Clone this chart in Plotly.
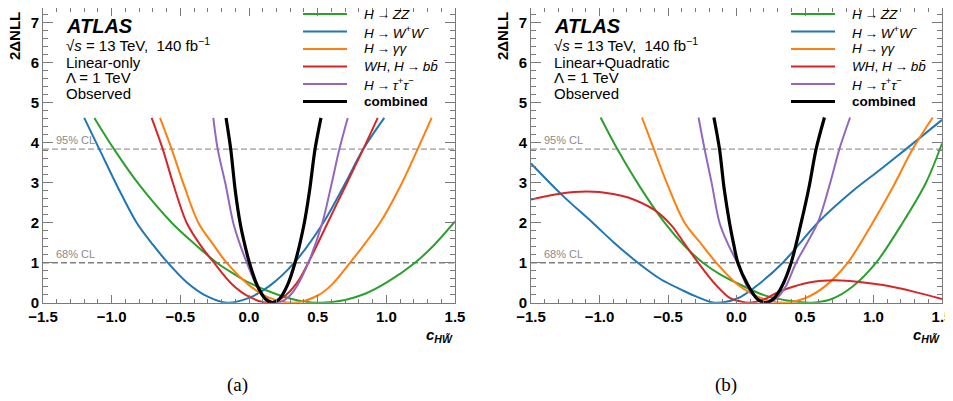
import plotly.graph_objects as go

# ---------------- data ----------------
TS = "\u2009"  # thin space around the arrows, as in the reference
channel_labels = [
    f"<i>H</i>{TS}→{TS}<i>ZZ</i>",
    f"<i>H</i>{TS}→{TS}<i>W</i><sup>+</sup><i>W</i><sup>−</sup>",
    f"<i>H</i>{TS}→{TS}<i>γγ</i>",
    f"<i>WH</i>, <i>H</i>{TS}→{TS}<i>bb̄</i>",
    f"<i>H</i>{TS}→{TS}<i>τ</i><sup>+</sup><i>τ</i><sup>−</sup>",
    "<b>combined</b>",
]
channel_colors = ["#2ca02c", "#1f77b4", "#ff7f0e", "#d62728", "#9467bd", "#000000"]
channel_widths = [2, 2, 2, 2, 2, 3.2]

# (a) Linear-only
lin_zz_x = [-1.126, -0.983, -0.80, -0.563, -0.40, -0.235, -0.10, 0.0, 0.211, 0.40, 0.52, 0.70, 0.85, 1.0, 1.209, 1.35, 1.5]
lin_zz_y = [4.62, 3.84, 2.95, 2.0, 1.48, 1.0, 0.70, 0.50, 0.20, 0.03, 0.0, 0.07, 0.23, 0.5, 1.0, 1.45, 2.03]
lin_ww_x = [-1.20, -1.09, -0.95, -0.818, -0.70, -0.592, -0.45, -0.30, -0.16, 0.0, 0.15, 0.33, 0.541, 0.70, 0.832, 0.985]
lin_ww_y = [4.62, 3.84, 2.85, 2.0, 1.45, 1.0, 0.50, 0.15, 0.0, 0.12, 0.42, 1.0, 2.0, 2.98, 3.84, 4.62]
lin_yy_x = [-0.648, -0.563, -0.47, -0.369, -0.26, -0.163, 0.0, 0.15, 0.33, 0.50, 0.60, 0.736, 0.954, 1.10, 1.228, 1.330]
lin_yy_y = [4.62, 3.84, 2.9, 2.0, 1.45, 1.0, 0.44, 0.12, 0.0, 0.18, 0.44, 1.0, 2.0, 2.9, 3.84, 4.62]
lin_bb_x = [-0.709, -0.628, -0.55, -0.454, -0.35, -0.255, -0.12, 0.0, 0.14, 0.25, 0.35, 0.432, 0.573, 0.70, 0.832, 0.937]
lin_bb_y = [4.62, 3.84, 2.95, 2.0, 1.42, 1.0, 0.45, 0.15, 0.0, 0.14, 0.5, 1.0, 2.0, 2.9, 3.84, 4.62]
lin_tt_x = [-0.260, -0.228, -0.17, -0.115, -0.06, -0.01, 0.05, 0.12, 0.20, 0.28, 0.35, 0.432, 0.534, 0.60, 0.658, 0.719]
lin_tt_y = [4.62, 3.84, 2.95, 2.0, 1.4, 0.95, 0.47, 0.13, 0.0, 0.12, 0.42, 1.0, 2.0, 2.95, 3.84, 4.62]
lin_comb_x = [-0.167, -0.133, -0.10, -0.065, -0.03, 0.003, 0.06, 0.12, 0.17, 0.22, 0.28, 0.335, 0.403, 0.44, 0.481, 0.524]
lin_comb_y = [4.62, 3.84, 2.8, 2.0, 1.44, 1.0, 0.43, 0.09, 0.0, 0.09, 0.44, 1.0, 2.0, 2.78, 3.84, 4.62]

# (b) Linear+Quadratic
quad_zz_x = [-0.992, -0.870, -0.70, -0.525, -0.38, -0.245, -0.12, 0.01, 0.20, 0.40, 0.55, 0.70, 0.85, 1.019, 1.213, 1.383, 1.5]
quad_zz_y = [4.63, 3.84, 2.87, 2.0, 1.42, 1.0, 0.71, 0.48, 0.19, 0.04, 0.0, 0.10, 0.41, 1.0, 2.0, 3.0, 3.98]
quad_ww_x = [-1.5, -1.267, -1.05, -0.90, -0.720, -0.55, -0.40, -0.306, -0.16, 0.01, 0.15, 0.338, 0.593, 0.861, 1.05, 1.237, 1.5]
quad_ww_y = [3.48, 2.67, 2.0, 1.52, 1.0, 0.58, 0.32, 0.17, 0.0, 0.11, 0.43, 1.0, 2.0, 2.83, 3.33, 3.84, 4.57]
quad_yy_x = [-0.690, -0.603, -0.50, -0.379, -0.26, -0.148, 0.01, 0.20, 0.35, 0.50, 0.65, 0.812, 0.994, 1.14, 1.286, 1.432]
quad_yy_y = [4.63, 3.84, 2.92, 2.0, 1.48, 1.0, 0.45, 0.09, 0.0, 0.11, 0.42, 1.0, 2.0, 2.88, 3.84, 4.63]
quad_bb_x = [-1.5, -1.3, -1.09, -0.9, -0.79, -0.6, -0.477, -0.38, -0.28, -0.16, -0.05, 0.03, 0.10, 0.20, 0.30, 0.411, 0.55, 0.72, 0.9, 1.07, 1.3, 1.5]
quad_bb_y = [2.58, 2.72, 2.78, 2.72, 2.63, 2.32, 1.94, 1.48, 1.0, 0.48, 0.12, 0.03, 0.0, 0.08, 0.26, 0.4, 0.52, 0.56, 0.52, 0.44, 0.27, 0.09]
quad_tt_x = [-0.277, -0.233, -0.18, -0.124, -0.06, 0.005, 0.08, 0.15, 0.22, 0.29, 0.36, 0.435, 0.593, 0.68, 0.751, 0.829]
quad_tt_y = [4.63, 3.84, 2.97, 2.0, 1.45, 1.0, 0.39, 0.1, 0.0, 0.1, 0.41, 1.0, 2.0, 2.95, 3.84, 4.63]
quad_comb_x = [-0.165, -0.124, -0.09, -0.051, -0.02, 0.01, 0.08, 0.15, 0.21, 0.27, 0.33, 0.399, 0.472, 0.53, 0.581, 0.642]
quad_comb_y = [4.63, 3.84, 2.85, 2.0, 1.45, 1.0, 0.46, 0.1, 0.0, 0.1, 0.4, 1.0, 2.0, 2.9, 3.84, 4.63]

cl_levels = [1.0, 3.84]
cl_labels = ["68% CL", "95% CL"]
cl_line_colors = ["#7f7f7f", "#9a9a9a"]
cl_line_widths = [1.5, 1.1]
x_ticks = [-1.5, -1.0, -0.5, 0.0, 0.5, 1.0, 1.5]
y_ticks = [0, 1, 2, 3, 4, 5, 6, 7]
panel_texts = [["Linear-only", "Λ = 1 TeV", "Observed"],
               ["Linear+Quadratic", "Λ = 1 TeV", "Observed"]]
captions = ["(a)", "(b)"]

lin_curves = [(lin_zz_x, lin_zz_y), (lin_ww_x, lin_ww_y), (lin_yy_x, lin_yy_y),
              (lin_bb_x, lin_bb_y), (lin_tt_x, lin_tt_y), (lin_comb_x, lin_comb_y)]
quad_curves = [(quad_zz_x, quad_zz_y), (quad_ww_x, quad_ww_y), (quad_yy_x, quad_yy_y),
               (quad_bb_x, quad_bb_y), (quad_tt_x, quad_tt_y), (quad_comb_x, quad_comb_y)]

# ---------------- figure ----------------
# The page body has an 8 px margin, so the figure is made 8 px smaller on each
# axis and all window positions below are converted with that offset.
OFF = 8
W, H = 953 - OFF, 401 - OFF
FONT = "Liberation Sans"
fig = go.Figure()

panels = [
    dict(curves=lin_curves, xa="x", ya="y", left=43, right=455),
    dict(curves=quad_curves, xa="x2", ya="y2", left=531, right=942),
]
plot_bottom = 302.7
px_per_unit = 40.0
plot_top = OFF  # the frame cannot start above the page margin
y_top = (plot_bottom - plot_top) / px_per_unit

def px(x):
    return (x - OFF) / W

def py(y):
    return 1 - (y - OFF) / H

annotations = []
shapes = []

for pi, p in enumerate(panels):
    # CL reference lines
    for lvl, lab, lc, lwid in zip(cl_levels, cl_labels, cl_line_colors, cl_line_widths):
        fig.add_trace(go.Scatter(x=[x_ticks[0], x_ticks[-1]], y=[lvl, lvl], mode="lines",
                                 line=dict(color=lc, width=lwid, dash="6px,3px"),
                                 xaxis=p["xa"], yaxis=p["ya"], hoverinfo="skip", showlegend=False))
        annotations.append(dict(x=x_ticks[0] + 0.08, y=lvl, xref=p["xa"], yref=p["ya"],
                                text=lab, showarrow=False, xanchor="left", yanchor="bottom",
                                yshift=1, font=dict(family=FONT, size=11, color="#8a8a8a")))
    # curves
    for (cx, cy), col, lw, lab in zip(p["curves"], channel_colors, channel_widths, channel_labels):
        fig.add_trace(go.Scatter(x=cx, y=cy, mode="lines",
                                 line=dict(color=col, width=lw, shape="spline", smoothing=0.9),
                                 xaxis=p["xa"], yaxis=p["ya"], name=lab, showlegend=False))

    L = p["left"]
    # ATLAS block
    annotations.append(dict(x=px(L + 21), y=py(26), xref="paper", yref="paper",
                            text="<b><i>ATLAS</i></b>", showarrow=False, xanchor="left", yanchor="middle",
                            font=dict(family=FONT, size=20, color="black")))
    annotations.append(dict(x=px(L + 21), y=py(44), xref="paper", yref="paper",
                            text="√<i>s</i> = 13 TeV,  140 fb<sup>−1</sup>", showarrow=False,
                            xanchor="left", yanchor="middle",
                            font=dict(family=FONT, size=15, color="black")))
    for li, t in enumerate(panel_texts[pi]):
        annotations.append(dict(x=px(L + 21), y=py(62.5 + 15.3 * li), xref="paper", yref="paper",
                                text=t, showarrow=False, xanchor="left", yanchor="middle",
                                font=dict(family=FONT, size=15, color="black")))
    # legend
    for li, (lab, col, lw) in enumerate(zip(channel_labels, channel_colors, channel_widths)):
        yc = 14 + 17.5 * li
        shapes.append(dict(type="line", xref="paper", yref="paper",
                           x0=px(L + 260), x1=px(L + 304), y0=py(yc), y1=py(yc),
                           line=dict(color=col, width=lw)))
        annotations.append(dict(x=px(L + 319), y=py(yc), xref="paper", yref="paper",
                                text=lab, showarrow=False, xanchor="left", yanchor="middle",
                                font=dict(family=FONT, size=13.5, color="black")))
    # axis titles
    annotations.append(dict(x=px(L - 29), y=py(10), xref="paper", yref="paper",
                            text="<b>2ΔNLL</b>", textangle=-90, showarrow=False,
                            xanchor="center", yanchor="top",
                            font=dict(family=FONT, size=15, color="black")))
    annotations.append(dict(x=px(p["right"]), y=py(335), xref="paper", yref="paper",
                            text="<b><i>c</i><sub><i>HW̃</i></sub></b>", showarrow=False,
                            xanchor="right", yanchor="middle",
                            font=dict(family=FONT, size=15, color="black")))
    # caption
    annotations.append(dict(x=px(L + 194.5), y=py(385), xref="paper", yref="paper",
                            text=captions[pi], showarrow=False, xanchor="center", yanchor="middle",
                            font=dict(family="Liberation Serif", size=19, color="black")))

axis_common = dict(showline=True, linecolor="#7a7a7a", linewidth=1, mirror="allticks",
                   ticks="inside", tickcolor="#7a7a7a", tickwidth=1, showgrid=False, zeroline=False,
                   automargin=False,
                   tickfont=dict(family=FONT, size=15, color="black", weight="bold"))
xcfg = dict(axis_common, range=[x_ticks[0], x_ticks[-1]], tickmode="array", tickvals=x_ticks,
            ticktext=[f"{v:.1f}".replace("-", "−") for v in x_ticks], ticklen=8,
            minor=dict(ticks="inside", dtick=0.1, tick0=-1.5, ticklen=4, tickcolor="#7a7a7a", showgrid=False))
ycfg = dict(axis_common, range=[0, y_top], tickmode="array", tickvals=y_ticks,
            ticktext=[str(v) for v in y_ticks], ticklen=10,
            minor=dict(ticks="inside", dtick=0.2, tick0=0, ticklen=5, tickcolor="#7a7a7a", showgrid=False))

ydom = [py(plot_bottom), py(plot_top)]
fig.update_layout(
    width=W, height=H, margin=dict(l=0, r=0, t=0, b=0),
    paper_bgcolor="white", plot_bgcolor="white", showlegend=False,
    xaxis=dict(xcfg, domain=[px(43), px(455)], anchor="y"),
    yaxis=dict(ycfg, domain=ydom, anchor="x"),
    xaxis2=dict(xcfg, domain=[px(531), px(942)], anchor="y2"),
    yaxis2=dict(ycfg, domain=ydom, anchor="x2"),
    annotations=annotations, shapes=shapes,
)

fig.write_html("out.html")
